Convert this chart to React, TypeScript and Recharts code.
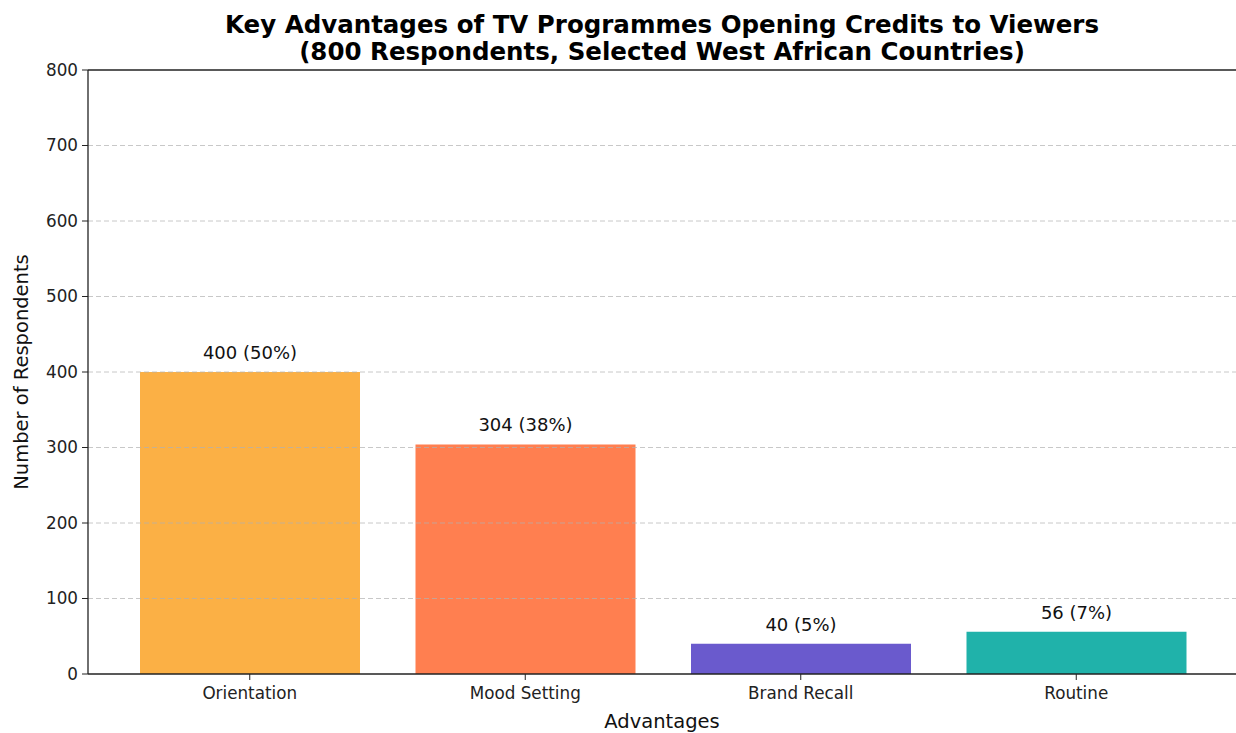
import React from "react";
import {
  BarChart,
  Bar,
  XAxis,
  YAxis,
  ReferenceLine,
  LabelList,
  Cell,
  Label
} from "recharts";

// Survey results
const advantages = ["Orientation", "Mood Setting", "Brand Recall", "Routine"];
const respondents = [400, 304, 40, 56];
const barColors = ["#FBB045", "#FF7F50", "#6A5ACD", "#20B2AA"];
const totalRespondents = 800;
const yTicks = [0, 100, 200, 300, 400, 500, 600, 700, 800];

const data = advantages.map((name, i) => ({
  name,
  count: respondents[i]
}));

const FONT = "'DejaVu Sans', sans-serif";

const formatLabel = (v: any) =>
  `${v} (${Math.round((Number(v) / totalRespondents) * 100)}%)`;

const App: React.FC = () => {
  return (
    <div style={{ position: "absolute", left: 0, top: 0, width: 1236, height: 733, background: "#fff", fontFamily: FONT }}>
      <div
        style={{
          position: "absolute",
          left: 88,
          width: 1148,
          top: 11,
          textAlign: "center",
          fontWeight: "bold",
          fontSize: 24.5,
          lineHeight: "27px",
          color: "#000"
        }}
      >
        Key Advantages of TV Programmes Opening Credits to Viewers
        <br />
        (800 Respondents, Selected West African Countries)
      </div>
      <BarChart
        width={1236}
        height={733}
        data={data}
        margin={{ top: 70, right: 0, left: 28, bottom: 29 }}
      >
        <XAxis
          dataKey="name"
          type="category"
          height={30}
          padding={{ left: 24, right: 22 }}
          axisLine={{ stroke: "#222", strokeWidth: 1.3 }}
          tickLine={{ stroke: "#222" }}
          tickSize={6}
          tick={{ fill: "#222", fontSize: 16.8, fontFamily: FONT }}
          tickMargin={7}
        >
          <Label
            value="Advantages"
            position="insideBottom"
            offset={-24}
            style={{ fill: "#111", fontSize: 19.5, fontFamily: FONT }}
          />
        </XAxis>
        <YAxis
          type="number"
          domain={[0, 800]}
          ticks={yTicks}
          width={60}
          axisLine={{ stroke: "#222", strokeWidth: 1.3 }}
          tickLine={{ stroke: "#222" }}
          tickSize={6}
          tick={{ fill: "#222", fontSize: 16.8, fontFamily: FONT }}
          tickMargin={4}
        >
          <Label
            value="Number of Respondents"
            angle={-90}
            position="insideLeft"
            offset={-7}
            style={{ textAnchor: "middle", fill: "#111", fontSize: 19.5, fontFamily: FONT }}
          />
        </YAxis>
        <Bar dataKey="count" barSize={220} isAnimationActive={false}>
          {data.map((d, i) => (
            <Cell key={d.name} fill={barColors[i]} />
          ))}
          <LabelList
            dataKey="count"
            position="top"
            offset={13}
            formatter={formatLabel}
            style={{ fill: "#111", fontSize: 18, fontFamily: FONT }}
          />
        </Bar>
        {yTicks.slice(1, -1).map((t) => (
          <ReferenceLine
            key={t}
            y={t}
            stroke="#b0b0b0"
            strokeOpacity={0.7}
            strokeDasharray="5 3"
          />
        ))}
        <ReferenceLine y={800} stroke="#222" strokeWidth={1.3} />
      </BarChart>
    </div>
  );
};

export default App;
